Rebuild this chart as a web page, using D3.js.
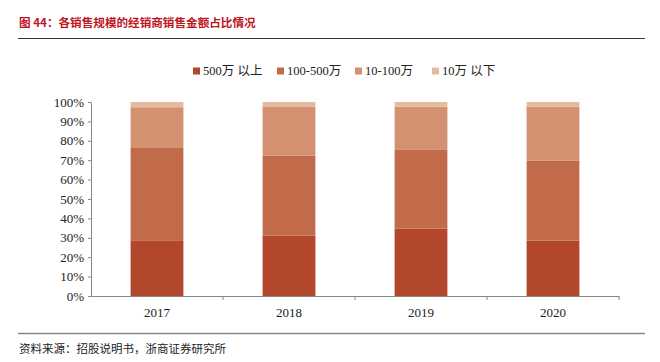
<!DOCTYPE html>
<html>
<head>
<meta charset="utf-8">
<script src="https://cdn.jsdelivr.net/npm/d3@7"></script>
<style>
  body { margin: 0; background: #fff; }
</style>
</head>
<body>
<div id="chart"></div>
<script>
const years = ["2017", "2018", "2019", "2020"];
const seriesNames = ["500万 以上", "100-500万", "10-100万", "10万 以下"];
const above500 = [28.4, 31.1, 34.7, 28.5];
const from100to500 = [47.9, 41.2, 40.6, 41.2];
const from10to100 = [21.0, 25.1, 22.3, 27.9];
const below10 = [2.7, 2.6, 2.4, 2.4];
const yTicks = [0, 10, 20, 30, 40, 50, 60, 70, 80, 90, 100];

let width = 660;
let height = 362;
let margin = { top: 102, right: 41, bottom: 66, left: 91 };

let colors = ["#b3472b", "#c16b4b", "#d39171", "#e6b9a1"];

const rows = years.map((y, i) => ({
  year: y,
  s0: above500[i],
  s1: from100to500[i],
  s2: from10to100[i],
  s3: below10[i]
}));
const keys = ["s0", "s1", "s2", "s3"];

const svg = d3.select("#chart").append("svg")
  .attr("width", width)
  .attr("height", height);

// 标题
svg.append("text")
  .attr("x", 19)
  .attr("y", 27)
  .attr("font-family", "Noto Sans CJK SC")
  .attr("font-weight", "bold")
  .attr("font-size", 11.6)
  .attr("fill", "#c0141e")
  .text("图 44：各销售规模的经销商销售金额占比情况");

svg.append("line")
  .attr("x1", 18).attr("x2", 645)
  .attr("y1", 38.5).attr("y2", 38.5)
  .attr("stroke", "#333").attr("stroke-width", 1.2);

let x = d3.scaleBand()
  .domain(years)
  .range([margin.left, width - margin.right])
  .paddingInner(0.6)
  .paddingOuter(0.3);

let y = d3.scaleLinear()
  .domain([0, 100])
  .range([height - margin.bottom, margin.top]);

const stack = d3.stack().keys(keys)(rows);

svg.append("g")
  .selectAll("g")
  .data(stack)
  .enter().append("g")
  .attr("fill", (d, i) => colors[i])
  .selectAll("rect")
  .data(d => d)
  .enter().append("rect")
  .attr("x", d => x(d.data.year))
  .attr("y", d => y(Math.min(d[1], 100)))
  .attr("height", d => y(d[0]) - y(Math.min(d[1], 100)))
  .attr("width", x.bandwidth());

// 轴
let xAxis = d3.scaleBand().domain(years).range([margin.left, width - margin.right]);
const gx = svg.append("g")
  .attr("transform", `translate(0,${height - margin.bottom})`)
  .call(d3.axisBottom(xAxis).tickSize(0).tickSizeOuter(0));
gx.select(".domain").attr("stroke", "#888");
gx.selectAll("text")
  .attr("dy", "1.35em")
  .attr("font-family", "Liberation Serif")
  .attr("font-size", 13)
  .attr("fill", "#222");
// 分隔刻度
gx.selectAll(".sep")
  .data(years.slice(1).concat(["end"]))
  .enter().append("line")
  .attr("x1", (d, i) => margin.left + (i + 1) * xAxis.bandwidth())
  .attr("x2", (d, i) => margin.left + (i + 1) * xAxis.bandwidth())
  .attr("y1", 0).attr("y2", 4)
  .attr("stroke", "#888");

const gy = svg.append("g")
  .attr("transform", `translate(${margin.left},0)`)
  .call(d3.axisLeft(y).tickValues(yTicks).tickSize(3).tickSizeOuter(0).tickFormat(d => d + "%"));
gy.select(".domain").attr("stroke", "#888");
gy.selectAll(".tick line").attr("stroke", "#888");
gy.selectAll("text")
  .attr("x", -7)
  .attr("font-family", "Liberation Serif")
  .attr("font-size", 13)
  .attr("fill", "#222");

// 图例
let legendX = [193, 277, 355, 432];
const legend = svg.append("g")
  .selectAll("g")
  .data(seriesNames)
  .enter().append("g")
  .attr("transform", (d, i) => `translate(${legendX[i]},71)`);
legend.append("rect")
  .attr("x", 0).attr("y", -3.5)
  .attr("width", 7).attr("height", 7)
  .attr("fill", (d, i) => colors[i]);
legend.append("text")
  .attr("x", 10)
  .attr("dy", "0.35em")
  .attr("font-family", "Liberation Serif, Noto Sans CJK SC")
  .attr("font-size", 12.5)
  .attr("fill", "#222")
  .text(d => d);

// 底部
svg.append("line")
  .attr("x1", 18).attr("x2", 645)
  .attr("y1", 333.5).attr("y2", 333.5)
  .attr("stroke", "#888").attr("stroke-width", 1.5);

svg.append("text")
  .attr("x", 19)
  .attr("y", 353)
  .attr("font-family", "Noto Sans CJK SC")
  .attr("font-size", 11.5)
  .attr("fill", "#222")
  .text("资料来源：招股说明书，浙商证券研究所");
</script>
</body>
</html>
